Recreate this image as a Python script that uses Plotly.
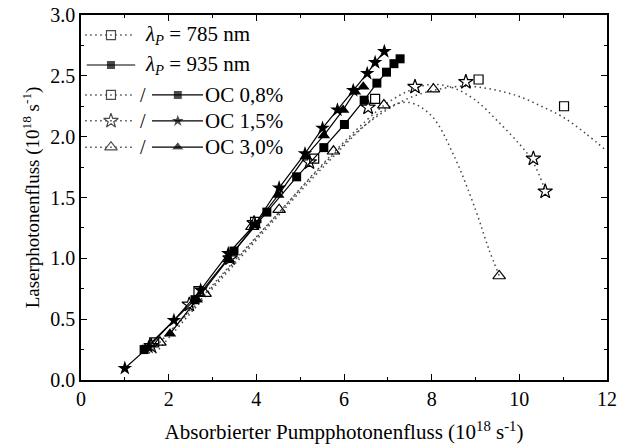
import plotly.graph_objects as go

# ---------------- data ----------------
# 935 nm (filled, solid lines)
sq935_x = [1.44, 2.60, 3.49, 4.24, 4.92, 5.54, 6.01, 6.46, 6.75, 6.97, 7.14, 7.28]
sq935_y = [0.25, 0.66, 1.06, 1.38, 1.67, 1.91, 2.10, 2.30, 2.44, 2.53, 2.60, 2.64]

st935_x = [1.00, 1.54, 2.12, 2.73, 3.36, 3.97, 4.52, 5.11, 5.51, 5.85, 6.21, 6.53, 6.71, 6.92]
st935_y = [0.096, 0.27, 0.49, 0.74, 1.04, 1.28, 1.58, 1.86, 2.07, 2.22, 2.38, 2.52, 2.61, 2.70]

tr935_x = [2.03, 2.64, 3.36, 3.97, 4.50, 5.13, 5.54, 5.98, 6.25, 6.44]
tr935_y = [0.38, 0.66, 0.99, 1.27, 1.52, 1.84, 2.01, 2.22, 2.37, 2.41]

# 785 nm (open markers)
sq785_x = [1.67, 2.68, 3.97, 5.32, 6.71, 9.07, 11.02]
sq785_y = [0.31, 0.73, 1.30, 1.82, 2.31, 2.47, 2.25]

st785_x = [1.60, 2.47, 3.40, 3.95, 5.21, 6.55, 7.62, 8.78, 10.32, 10.59]
st785_y = [0.28, 0.62, 1.00, 1.29, 1.79, 2.24, 2.41, 2.45, 1.82, 1.55]

tr785_x = [1.80, 2.83, 3.90, 4.52, 5.76, 6.91, 8.04, 9.54]
tr785_y = [0.31, 0.71, 1.26, 1.40, 1.88, 2.26, 2.39, 0.855]

# dotted fit curves for 785 nm
fitsq_x = [1.6, 2.5, 3.5, 4.5, 5.5, 6.5, 7.5, 8.5, 9.0, 9.5, 10.0, 10.5, 11.0, 11.5, 12.0]
fitsq_y = [0.24, 0.58, 0.98, 1.37, 1.76, 2.10, 2.32, 2.41, 2.41, 2.38, 2.33, 2.25, 2.16, 2.03, 1.88]

fitst_x = [1.55, 2.5, 3.5, 4.5, 5.5, 6.5, 7.0, 7.5, 8.0, 8.5, 9.0, 9.5, 10.0, 10.3, 10.6]
fitst_y = [0.22, 0.57, 0.97, 1.37, 1.77, 2.13, 2.28, 2.38, 2.43, 2.40, 2.30, 2.13, 1.94, 1.80, 1.55]

fittr_x = [1.7, 2.5, 3.5, 4.5, 5.5, 6.5, 7.0, 7.5, 8.0, 8.5, 9.0, 9.3, 9.55]
fittr_y = [0.22, 0.55, 0.95, 1.35, 1.74, 2.10, 2.24, 2.28, 2.17, 1.85, 1.40, 1.08, 0.85]

legend_labels = ["<i>λ</i><sub><i>P</i></sub> = 785 nm",
                 "<i>λ</i><sub><i>P</i></sub> = 935 nm",
                 "OC 0,8%", "OC 1,5%", "OC 3,0%"]

x_title = "Absorbierter Pumpphotonenfluss (10<sup>18</sup> s<sup>-1</sup>)"
y_title = "Laserphotonenfluss (10<sup>18</sup> s<sup>-1</sup>)"

FONT = "Liberation Serif, Times New Roman, serif"
DOT = "#444444"
DOTDASH = "1.5px,3.5px"

fig = go.Figure()

# fit curves
for fx, fy in [(fitsq_x, fitsq_y), (fitst_x, fitst_y), (fittr_x, fittr_y)]:
    fig.add_trace(go.Scatter(x=fx, y=fy, mode="lines",
                             line=dict(color=DOT, width=1.5, dash=DOTDASH, shape="spline"),
                             hoverinfo="skip", showlegend=False))

# open markers
for mx, my, sym, sz in [(sq785_x, sq785_y, "square-open", 9), (st785_x, st785_y, "star-open", 11),
                        (tr785_x, tr785_y, "triangle-up-open", 11)]:
    fig.add_trace(go.Scatter(x=mx, y=my, mode="markers",
                             marker=dict(symbol=sym, size=sz, color="black", line=dict(width=1.2, color="black")),
                             showlegend=False))

# filled series with solid lines
for mx, my, sym, sz in [(sq935_x, sq935_y, "square", 9), (st935_x, st935_y, "star", 11),
                        (tr935_x, tr935_y, "triangle-up", 11)]:
    fig.add_trace(go.Scatter(x=mx, y=my, mode="lines+markers", line=dict(color="black", width=1.2),
                             marker=dict(symbol=sym, size=sz, color="black"), showlegend=False))

# ---------------- hand-built legend ----------------
rows = [0.945, 0.863, 0.781, 0.710, 0.638]
open_syms = ["square-open", "star-open", "triangle-up-open"]
fill_syms = ["square", "star", "triangle-up"]
sizes = {"square-open": 9, "square": 9, "star-open": 11, "star": 11,
         "triangle-up-open": 11, "triangle-up": 11}

def hline(x0, x1, y, dash):
    if dash == "dot":
        fig.add_shape(type="line", xref="paper", yref="paper", x0=x0, x1=x1, y0=y, y1=y,
                      line=dict(color=DOT, width=1.5, dash=DOTDASH))
    else:
        fig.add_shape(type="line", xref="paper", yref="paper", x0=x0, x1=x1, y0=y, y1=y,
                      line=dict(color="black", width=1.2))

ox, oy, osym = [], [], []
fx_, fy_, fsym = [], [], []
# row 1: dotted + open square
hline(0.008, 0.097, rows[0], "dot"); ox.append(0.057); oy.append(rows[0]); osym.append("square-open")
# row 2: solid + filled square
hline(0.011, 0.103, rows[1], "solid"); fx_.append(0.057); fy_.append(rows[1]); fsym.append("square")
for i in range(3):
    y = rows[2 + i]
    hline(0.008, 0.097, y, "dot")
    ox.append(0.057); oy.append(y); osym.append(open_syms[i])
    hline(0.135, 0.232, y, "solid")
    fx_.append(0.184); fy_.append(y); fsym.append(fill_syms[i])
    fig.add_annotation(x=0.118, y=y, xref="paper", yref="paper", text="/", showarrow=False,
                       xanchor="center", yanchor="middle", font=dict(family=FONT, size=20, color="black"))

fig.add_trace(go.Scatter(x=ox, y=oy, mode="markers", xaxis="x2", yaxis="y2",
                         marker=dict(symbol=osym, size=[sizes[s] for s in osym], color="black",
                                     line=dict(width=1.2, color="black")),
                         showlegend=False, hoverinfo="skip"))
fig.add_trace(go.Scatter(x=fx_, y=fy_, mode="markers", xaxis="x2", yaxis="y2",
                         marker=dict(symbol=fsym, size=[sizes[s] for s in fsym], color="black"),
                         showlegend=False, hoverinfo="skip"))

for i, lab in enumerate(legend_labels):
    x0 = 0.118 if i < 2 else 0.232
    fig.add_annotation(x=x0, y=rows[i], xref="paper", yref="paper", text=lab, showarrow=False,
                       xanchor="left", yanchor="middle", font=dict(family=FONT, size=21, color="black"))

axis_common = dict(showgrid=False, zeroline=False, showline=True, linecolor="black", linewidth=1.5,
                   mirror="ticks", ticks="inside", ticklen=6, tickwidth=1.2, tickcolor="black",
                   automargin=False,
                   tickfont=dict(family=FONT, size=20, color="black"))

fig.update_layout(
    width=621, height=447,
    margin=dict(l=81, r=14, t=15, b=67),
    paper_bgcolor="white", plot_bgcolor="white",
    font=dict(family=FONT, color="black"),
    xaxis=dict(range=[0, 12], dtick=2, tick0=0,
               minor=dict(dtick=1, ticks="inside", ticklen=3, tickcolor="black"),
               title=dict(text=x_title, font=dict(family=FONT, size=21), standoff=16), **axis_common),
    yaxis=dict(range=[0, 3], dtick=0.5, tick0=0, tickformat=".1f",
               minor=dict(dtick=0.25, ticks="inside", ticklen=3, tickcolor="black"),
               title=dict(text=y_title, font=dict(family=FONT, size=19), standoff=6), **axis_common),
    xaxis2=dict(range=[0, 1], overlaying="x", visible=False, anchor="y2"),
    yaxis2=dict(range=[0, 1], overlaying="y", visible=False, anchor="x2"),
    showlegend=False,
)

fig.write_html("out.html", config={"displayModeBar": False},
               post_script="document.body.style.margin='0';document.body.style.overflow='hidden';")
